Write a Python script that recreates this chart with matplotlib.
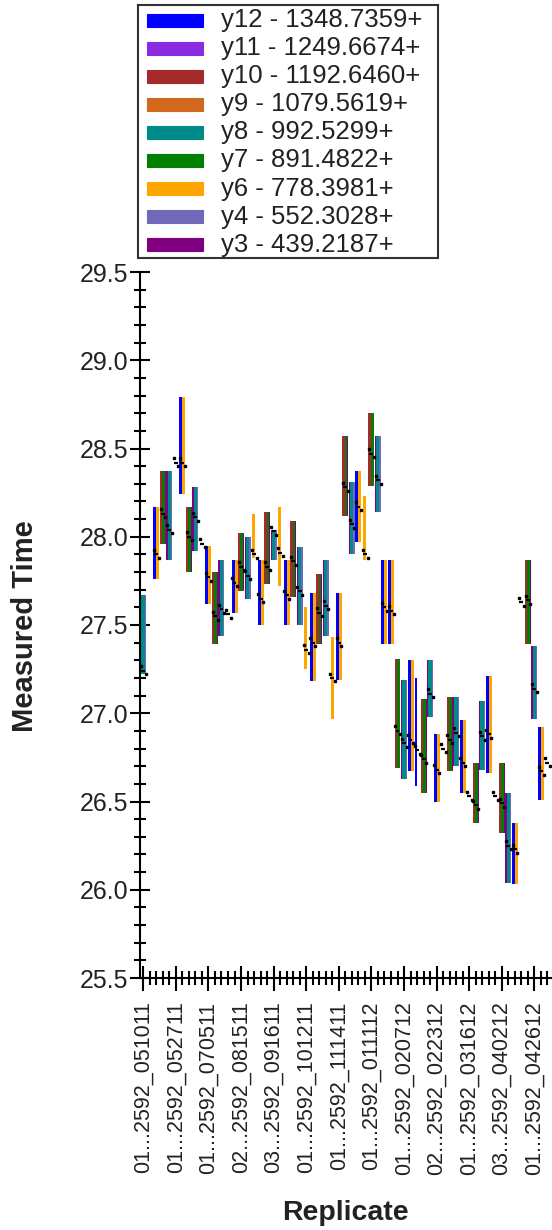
import numpy as np
import matplotlib
matplotlib.use("Agg")
import matplotlib.pyplot as plt
from matplotlib.patches import Rectangle
from matplotlib.ticker import MultipleLocator, FixedLocator, FuncFormatter

plt.rcParams["font.family"] = ["Liberation Sans", "DejaVu Sans"]

# ---- transitions (legend order) ----
transitions = ["y12", "y11", "y10", "y9", "y8", "y7", "y6", "y4", "y3"]
transition_mz = ["1348.7359", "1249.6674", "1192.6460", "1079.5619", "992.5299",
                 "891.4822", "778.3981", "552.3028", "439.2187"]
transition_colors = ["#0000FF", "#8A2BE2", "#A52A2A", "#D2691E", "#008B8B",
                     "#008000", "#FFA500", "#7068B8", "#800080"]

# ---- replicate axis labels (every fifth replicate) ----
label_positions = [0, 5, 10, 15, 20, 25, 30, 35, 40, 45, 50, 55, 60]
label_texts = ["01...2592_051011", "01...2592_052711", "01...2592_070511",
               "02...2592_081511", "03...2592_091611", "01...2592_101211",
               "01...2592_111411", "01...2592_011112", "01...2592_020712",
               "02...2592_022312", "01...2592_031612", "03...2592_040212",
               "01...2592_042612"]

nan = np.nan
# peak boundaries (low / high) and apex retention time per replicate
peak_low = [27.22, nan, 27.76, 27.96, 27.87, nan, 28.24, 27.80, 27.92, nan,
            27.62, 27.39, 27.44, nan, 27.57, 27.69, 27.65, 27.88, 27.50, 27.73,
            27.87, 27.72, 27.50, 27.66, 27.50, 27.25, 27.18, 27.39, 27.44, 26.97,
            27.19, 28.12, 27.90, 27.97, 27.87, 28.29, 28.14, 27.39, 27.39, 26.69,
            26.63, 26.67, 26.59, 26.55, 26.98, 26.50, nan, 26.67, 26.70, 26.55,
            nan, 26.38, 26.68, 26.66, nan, 26.32, 26.04, 26.03, nan, 27.39,
            26.97, 26.51, nan]
peak_high = [27.67, nan, 28.17, 28.37, 28.37, nan, 28.79, 28.17, 28.28, nan,
             27.95, 27.80, 27.87, nan, 27.87, 28.02, 28.00, 28.13, 27.87, 28.14,
             28.04, 28.17, 27.87, 28.09, 27.94, 27.60, 27.68, 27.79, 27.87, 27.43,
             27.68, 28.57, 28.31, 28.37, 28.23, 28.70, 28.57, 27.87, 27.87, 27.31,
             27.19, 27.30, 27.20, 27.08, 27.30, 26.88, nan, 27.09, 27.09, 26.96,
             nan, 26.72, 27.07, 27.21, nan, 26.72, 26.55, 26.38, nan, 27.87,
             27.38, 26.92, nan]
apex_rt = [27.24, nan, 27.90, 28.13, 28.04, 28.42, 28.42, 28.00, 28.11, 27.96,
           27.77, 27.55, 27.59, 27.56, 27.74, 27.83, 27.78, 27.90, 27.65, 27.83,
           28.03, 27.91, 27.67, 27.86, 27.69, 27.36, 27.40, 27.57, 27.61, 27.20,
           27.40, 28.28, 28.07, 28.17, 27.90, 28.47, 28.32, 27.60, 27.58, 26.90,
           26.83, 26.85, 26.79, 26.74, 27.11, 26.68, 26.80, 26.85, 26.89, 26.72,
           26.53, 26.48, 26.87, 26.88, 26.53, 26.49, 26.25, 26.23, 27.63, 27.64,
           27.14, 26.67, 26.72]

# which transition stripes show up inside each replicate's narrow bar slot
stripe_sets = {
    "A": [("y12", 0.5), ("y6", 0.5)],
    "G": [("y10", 0.4), ("y7", 0.45), ("y3", 0.15)],
    "T": [("y3", 0.2), ("y8", 0.55), ("y4", 0.25)],
    "o": [(None, 0.2), ("y6", 0.5)],
    "b": [(None, 0.2), ("y12", 0.35)],
    "-": [],
}
slot_kind = ("T-AGT-AGT-AGT-AGToAGToAGToAGToAGTAoGTAAGTAbGTA-GTA-GTA-GTA-GTA-")

color_of = dict(zip(transitions, transition_colors))

W, H, DPI = 552, 1230, 100
fig = plt.figure(figsize=(W / DPI, H / DPI), dpi=DPI)
fig.patch.set_facecolor("white")

ax_left, ax_right = 140 / W, 1.0
ax_bottom, ax_top = 1 - 978 / H, 1 - 272 / H
ax = fig.add_axes([ax_left, ax_bottom, ax_right - ax_left, ax_top - ax_bottom])
ax.set_facecolor("white")

n_rep = len(apex_rt)
ax.set_xlim(-0.5, 62.7)
ax.set_ylim(25.5, 29.5)

bar_w = 0.92
for i in range(n_rep):
    lo, hi = peak_low[i], peak_high[i]
    if not (np.isnan(lo) or np.isnan(hi)):
        x0 = i - bar_w / 2
        for name, frac in stripe_sets[slot_kind[i]]:
            w = frac * bar_w
            if name is not None:
                ax.bar(x0, hi - lo, bottom=lo, width=w, align="edge",
                       color=color_of[name], linewidth=0, zorder=2)
            x0 += w

# retention-time marks
for i in range(n_rep):
    rt = apex_rt[i]
    if np.isnan(rt):
        continue
    ax.plot([i - 0.3, i + 0.3], [rt, rt], color="black", lw=1.6,
            solid_capstyle="butt", zorder=4)
    ax.plot([i - 0.35, i + 0.4], [rt + 0.025, rt - 0.02], ls="none",
            marker="s", ms=1.6, color="black", zorder=4)

# axes styling
for side in ("top", "right"):
    ax.spines[side].set_visible(False)
for side in ("left", "bottom"):
    ax.spines[side].set_linewidth(1.5)
    ax.spines[side].set_color("black")

ax.yaxis.set_major_locator(MultipleLocator(0.5))
ax.yaxis.set_minor_locator(MultipleLocator(0.1))
ax.yaxis.set_major_formatter(FuncFormatter(lambda v, p: f"{v:.1f}"))
ax.tick_params(axis="y", which="major", direction="inout", length=15, width=1.5,
               labelsize=18, pad=1, colors="black", labelcolor="#222222")
ax.tick_params(axis="y", which="minor", direction="inout", length=9, width=1.5)

ax.xaxis.set_major_locator(FixedLocator(label_positions))
ax.xaxis.set_minor_locator(FixedLocator(range(n_rep)))
ax.set_xticklabels(label_texts, rotation=90, ha="center", va="top")
ax.tick_params(axis="x", which="major", direction="inout", length=18, width=1.5,
               labelsize=15.5, pad=8, labelcolor="#222222")
ax.tick_params(axis="x", which="minor", direction="inout", length=10, width=1.5)

fig.text(25 / W, 1 - 626 / H, "Measured Time", rotation=90, ha="center",
         va="center", fontsize=21, fontweight="bold", color="#222222")
fig.text(345 / W, 1 - 1213 / H, "Replicate", ha="center", va="center",
         fontsize=20.5, fontweight="bold", color="#222222")

# legend box
lx0, ly0, lx1, ly1 = 138, 5, 438, 258
lax = fig.add_axes([lx0 / W, 1 - ly1 / H, (lx1 - lx0) / W, (ly1 - ly0) / H])
lax.set_xlim(0, lx1 - lx0)
lax.set_ylim(ly1 - ly0, 0)
lax.set_xticks([])
lax.set_yticks([])
for s in lax.spines.values():
    s.set_linewidth(1.5)
    s.set_color("#333333")
row_h = 28.1
for k, (name, mz, col) in enumerate(zip(transitions, transition_mz, transition_colors)):
    yc = 15 + row_h * k
    lax.add_patch(Rectangle((8.7, yc - 6.5), 56, 13, facecolor=col,
                            edgecolor=col, linewidth=0.8, alpha=1.0))
    lax.text(82.7, yc, f"{name} - {mz}+", ha="left", va="center",
             fontsize=18.5, color="#222222")

fig.savefig("out.png", dpi=DPI, facecolor="white")
